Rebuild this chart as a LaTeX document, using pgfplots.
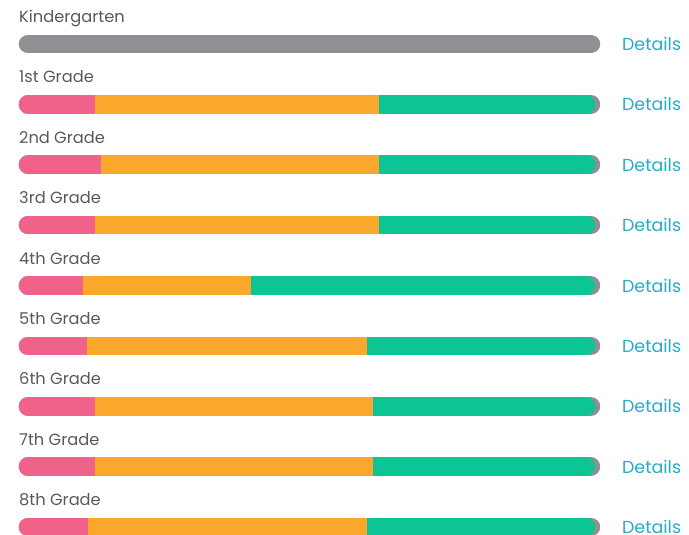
\documentclass[border=0pt]{standalone}
\usepackage{pgfplots}
\usepackage{pgfplotstable}
\pgfplotsset{compat=1.18}
\usepackage{fontspec}
\setmainfont{Poppins}
\definecolor{pinkc}{RGB}{240,98,137}
\definecolor{orangec}{RGB}{249,168,43}
\definecolor{greenc}{RGB}{12,196,148}
\definecolor{grayc}{RGB}{142,144,148}
\definecolor{linkc}{RGB}{38,172,200}
\definecolor{labelc}{RGB}{88,89,91}

% row = grade (1..8); p = pink share, o = orange share, g = green share
\pgfplotstableread{
row p o g
1 11.9 50.4 36.8
2 12.9 49.4 36.8
3 11.9 50.4 36.8
4 9.8 29.8 59.5
5 10.5 49.8 38.8
6 11.9 49.3 37.9
7 11.9 49.3 37.9
8 10.7 49.5 38.9
}\grades

\begin{document}
\begin{tikzpicture}
\begin{axis}[
  width=689bp, height=535bp, scale only axis,
  xmin=-4.973, xmax=117.41,
  ymin=-0.7288, ymax=8.1325,
  y dir=reverse,
  hide axis, clip=true,
]
\path (rel axis cs:0,0) rectangle (rel axis cs:1,1);
% gray background capsules (all rows incl. Kindergarten)
\addplot[grayc, line width=18.5bp, line cap=round, quiver={u=100,v=0}]
  coordinates {(0,0) (0,1) (0,2) (0,3) (0,4) (0,5) (0,6) (0,7) (0,8)};
% green
\addplot[greenc, line width=18.5bp, line cap=round,
  quiver={u=\thisrow{g}, v=0}]
  table[x expr=\thisrow{p}+\thisrow{o}, y=row] {\grades};
% pink
\addplot[pinkc, line width=18.5bp, line cap=round,
  quiver={u=\thisrow{p}, v=0}]
  table[x expr=0, y=row] {\grades};
% orange
\addplot[orangec, line width=18.5bp, line cap=butt,
  quiver={u=\thisrow{o}, v=0}]
  table[x=p, y=row] {\grades};

\begin{scope}[every node/.style={inner sep=0pt, anchor=base west, text=labelc, font=\fontsize{16.3}{16.3}\selectfont}]
\node at (axis cs:-1.6,-0.356) {Kindergarten};
\node at (axis cs:-1.6,0.644) {1st Grade};
\node at (axis cs:-1.6,1.644) {2nd Grade};
\node at (axis cs:-1.6,2.644) {3rd Grade};
\node at (axis cs:-1.6,3.644) {4th Grade};
\node at (axis cs:-1.6,4.644) {5th Grade};
\node at (axis cs:-1.6,5.644) {6th Grade};
\node at (axis cs:-1.6,6.644) {7th Grade};
\node at (axis cs:-1.6,7.644) {8th Grade};
\end{scope}
\begin{scope}[every node/.style={inner sep=0pt, anchor=west, text=linkc, font=\fontsize{17.5}{17.5}\selectfont}]
\node at (axis cs:105.5,0) {Details};
\node at (axis cs:105.5,1) {Details};
\node at (axis cs:105.5,2) {Details};
\node at (axis cs:105.5,3) {Details};
\node at (axis cs:105.5,4) {Details};
\node at (axis cs:105.5,5) {Details};
\node at (axis cs:105.5,6) {Details};
\node at (axis cs:105.5,7) {Details};
\node at (axis cs:105.5,8) {Details};
\end{scope}
\end{axis}
\end{tikzpicture}
\end{document}
